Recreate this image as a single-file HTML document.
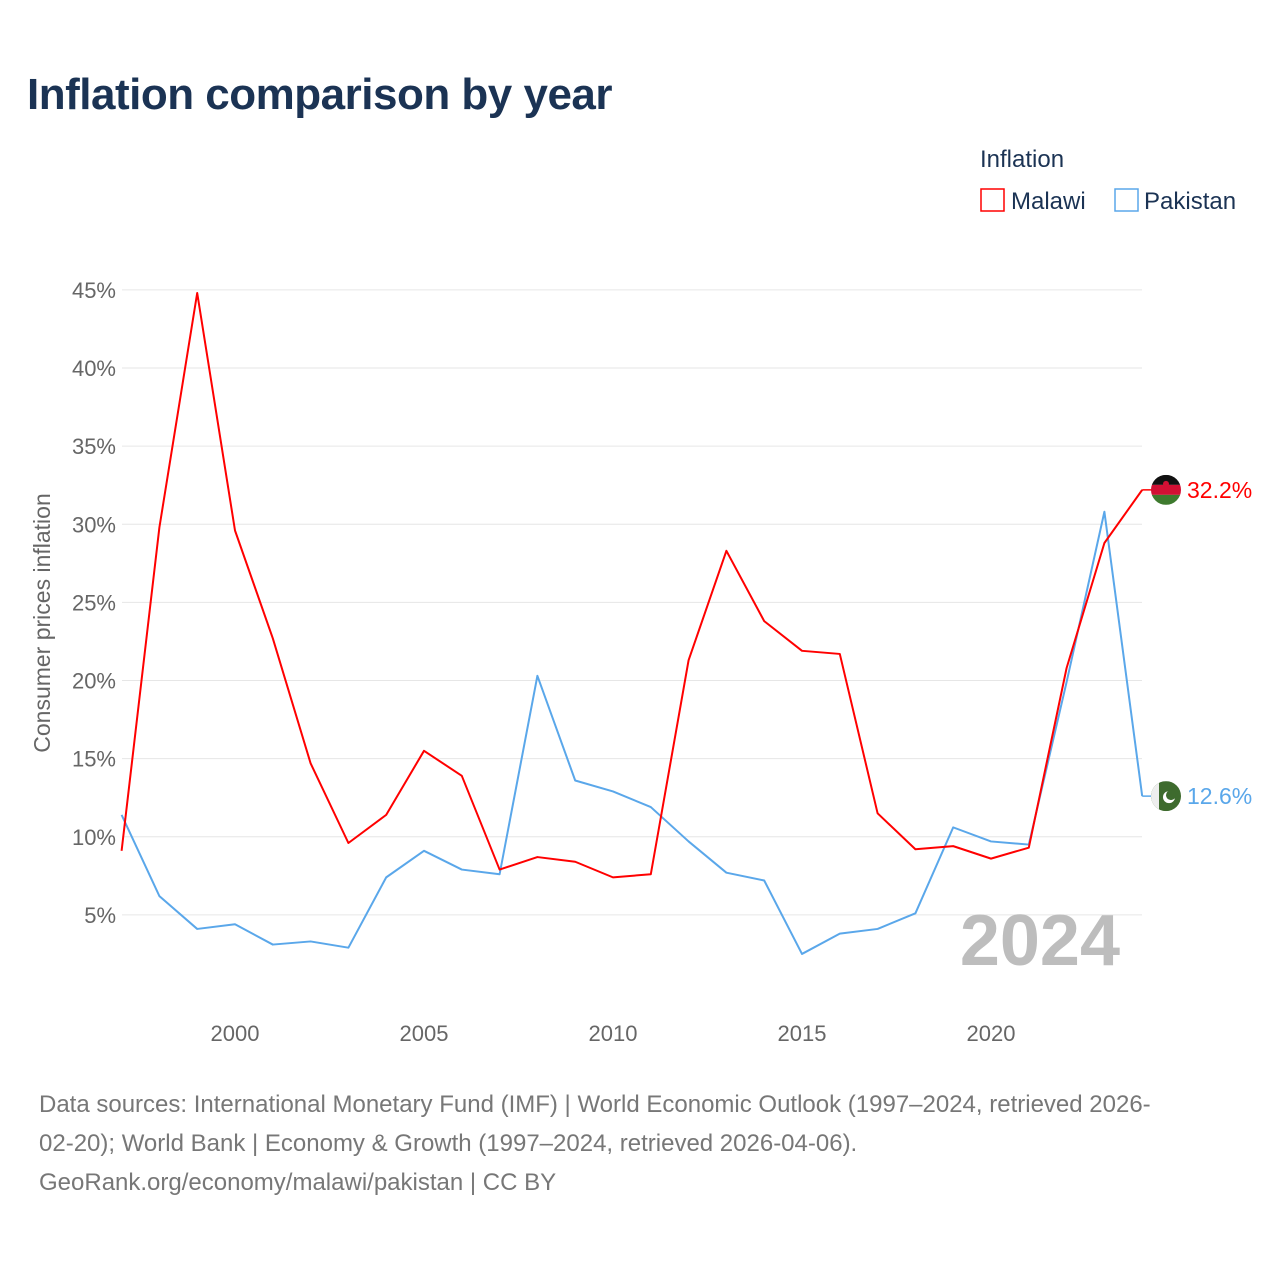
<!DOCTYPE html>
<html><head><meta charset="utf-8">
<style>
body{margin:0;background:#fff;font-family:"Liberation Sans",sans-serif;}
#wrap{position:relative;width:1280px;height:1280px;overflow:hidden;}
h1{position:absolute;left:27px;top:70px;margin:0;font-size:44px;font-weight:bold;color:#1b3354;letter-spacing:-0.5px;}
.src{position:absolute;left:39px;top:1085px;font-size:24px;line-height:39px;color:#777;white-space:nowrap;}
</style></head><body>
<div id="wrap">
<h1>Inflation comparison by year</h1>
<svg id="chart" width="1280" height="1280" style="position:absolute;left:0;top:0"></svg>
<div class="src">Data sources: International Monetary Fund (IMF) | World Economic Outlook (1997–2024, retrieved 2026-<br>02-20); World Bank | Economy &amp; Growth (1997–2024, retrieved 2026-04-06).<br>GeoRank.org/economy/malawi/pakistan | CC BY</div>
</div>
<script>
const years=[1997,1998,1999,2000,2001,2002,2003,2004,2005,2006,2007,2008,2009,2010,2011,2012,2013,2014,2015,2016,2017,2018,2019,2020,2021,2022,2023,2024];
const malawi=[9.1,29.8,44.8,29.6,22.7,14.7,9.6,11.4,15.5,13.9,7.9,8.7,8.4,7.4,7.6,21.3,28.3,23.8,21.9,21.7,11.5,9.2,9.4,8.6,9.3,20.8,28.8,32.2];
const pakistan=[11.4,6.2,4.1,4.4,3.1,3.3,2.9,7.4,9.1,7.9,7.6,20.3,13.6,12.9,11.9,9.7,7.7,7.2,2.5,3.8,4.1,5.1,10.6,9.7,9.5,19.9,30.8,12.6];
const yTicks=[5,10,15,20,25,30,35,40,45];
const xTicks=[2000,2005,2010,2015,2020];
const NS='http://www.w3.org/2000/svg';
const svg=document.getElementById('chart');
const x=v=>235+(v-2000)*37.8;
const y=v=>993-v*15.625;
function mk(t,a,txt,parent){const e=document.createElementNS(NS,t);for(const k in a)e.setAttribute(k,a[k]);if(txt!==undefined&&txt!==null)e.textContent=txt;(parent||svg).appendChild(e);return e;}
yTicks.forEach(t=>{
 const g=mk('line',{x1:122,x2:1142,y1:y(t),y2:y(t),stroke:'#e6e6e6','stroke-width':1});
 
 
 const l=mk('text',{x:116,y:y(t)+8,'text-anchor':'end','font-size':22,fill:'#666','font-family':'Liberation Sans'},t+'%');
 
 
});
xTicks.forEach(t=>{
 const l=mk('text',{x:x(t),y:1041,'text-anchor':'middle','font-size':22,fill:'#666','font-family':'Liberation Sans'},String(t));
 
 
});
const yt=mk('text',{x:0,y:0,transform:'translate(50,623) rotate(-90)','text-anchor':'middle','font-size':23,fill:'#666','font-family':'Liberation Sans'},'Consumer prices inflation');


const wm=mk('text',{x:1120,y:965,'text-anchor':'end','font-size':72,'font-weight':'bold',fill:'#bdbdbd','font-family':'Liberation Sans'},'2024');


function series(d,c,name){
 const p=mk('polyline',{points:d.map((v,i)=>x(years[i])+','+y(v)).join(' '),fill:'none',stroke:c,'stroke-width':2,'stroke-linejoin':'round'});
 
 
}
series(pakistan,'#5aa7ea','pakistan');
series(malawi,'#f00','malawi');
const lm=malawi[malawi.length-1], lp=pakistan[pakistan.length-1];
const x24=x(2024);
mk('line',{x1:x24,x2:1158,y1:y(lm),y2:y(lm),stroke:'#f00','stroke-width':1.5});
mk('line',{x1:x24,x2:1158,y1:y(lp),y2:y(lp),stroke:'#5aa7ea','stroke-width':1.5});
const defs=mk('defs',{});
const cy1=y(lm), cy2=y(lp);
const c1=mk('clipPath',{id:'c1'},null,defs); mk('circle',{cx:1166,cy:cy1,r:15},null,c1);
const c2=mk('clipPath',{id:'c2'},null,defs); mk('circle',{cx:1166,cy:cy2,r:15},null,c2);
const f1=mk('g',{'clip-path':'url(#c1)'});


mk('rect',{x:1151,y:cy1-15,width:30,height:10,fill:'#111'},null,f1);
mk('rect',{x:1151,y:cy1-5,width:30,height:10,fill:'#d21034'},null,f1);
mk('rect',{x:1151,y:cy1+5,width:30,height:10,fill:'#3e7a2e'},null,f1);
mk('circle',{cx:1166,cy:cy1-6,r:3,fill:'#d21034'},null,f1);
const ml=mk('text',{x:1187,y:cy1+8,'font-size':23,fill:'#f00','font-family':'Liberation Sans'},lm.toFixed(1)+'%');


const f2=mk('g',{'clip-path':'url(#c2)'});


mk('rect',{x:1151,y:cy2-15,width:30,height:30,fill:'#3e6b2e'},null,f2);
mk('rect',{x:1151,y:cy2-15,width:8,height:30,fill:'#eee'},null,f2);
mk('circle',{cx:1169,cy:cy2+1,r:6,fill:'#fff'},null,f2);
mk('circle',{cx:1171,cy:cy2-1,r:5,fill:'#3e6b2e'},null,f2);
const pl=mk('text',{x:1187,y:cy2+8,'font-size':23,fill:'#5aa7ea','font-family':'Liberation Sans'},lp.toFixed(1)+'%');


const lt=mk('text',{x:980,y:167,'font-size':24,fill:'#1b3354','font-family':'Liberation Sans'},'Inflation');


const r1=mk('rect',{x:981,y:189,width:23,height:22,fill:'none',stroke:'#f00','stroke-width':1.5});


const t1=mk('text',{x:1011,y:209,'font-size':24,fill:'#1b3354','font-family':'Liberation Sans'},'Malawi');


const r2=mk('rect',{x:1115,y:189,width:23,height:22,fill:'none',stroke:'#5aa7ea','stroke-width':1.5});


const t2=mk('text',{x:1144,y:209,'font-size':24,fill:'#1b3354','font-family':'Liberation Sans'},'Pakistan');


</script>
</body></html>
